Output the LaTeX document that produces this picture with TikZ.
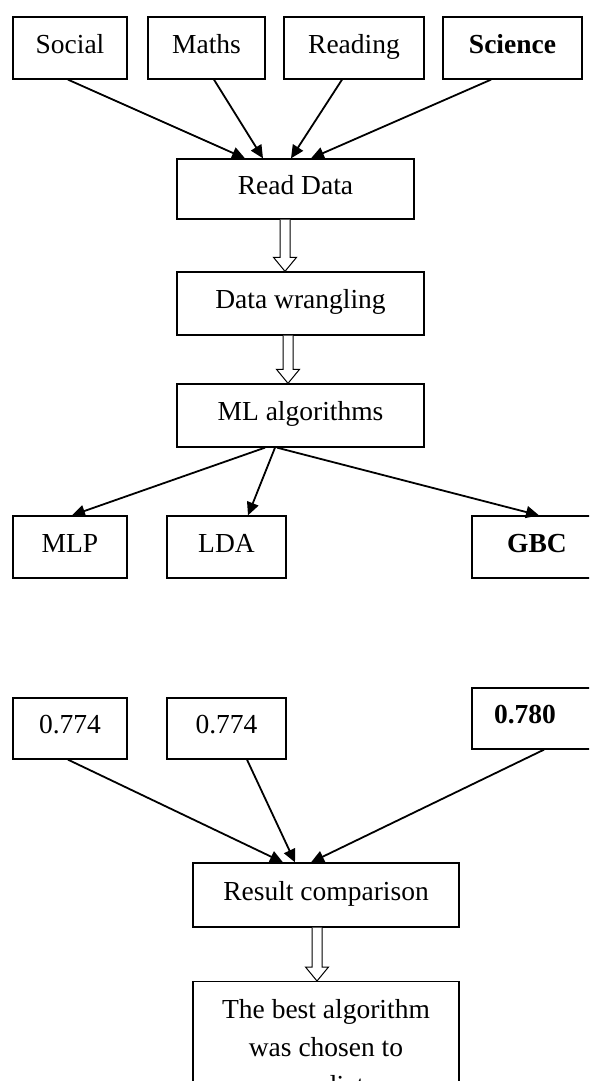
\documentclass[tikz,border=0pt]{standalone}
\usepackage{fontspec}
\setmainfont{Liberation Serif}
\usetikzlibrary{arrows.meta,calc}
\newcommand{\blockarr}[2]{\draw[blockarrow] let \p1=#1, \p2=#2 in
  (\x1-5pt,\y1) -- (\x1-5pt,\y2+14pt) -- (\x1-11.5pt,\y2+14pt) -- (\x1,\y2)
  -- (\x1+11.5pt,\y2+14pt) -- (\x1+5pt,\y2+14pt) -- (\x1+5pt,\y1);}
\begin{document}
\begin{tikzpicture}[x=1pt,y=-1pt,
  box/.style={draw,line width=1.3pt,rectangle,inner sep=0pt,
    font=\fontsize{27.5}{38}\selectfont,align=center,
    text height=19pt,text depth=9pt},
  boldbox/.style={box,font=\fontsize{27.5}{38}\selectfont\bfseries},
  conn/.style={line width=1.8pt,-{Triangle[length=13pt,width=12pt]}},
  blockarrow/.style={draw,line width=1pt,fill=white}]
\useasboundingbox (0,0) rectangle (589,1081);
\fill[white] (0,0) rectangle (589,1081);
\clip (0,0) rectangle (589,1081);

% top row
\node[box,minimum width=114pt,minimum height=62pt] (social) at (70,48) {Social};
\node[box,minimum width=117pt,minimum height=62pt] (maths) at (206.5,48) {Maths};
\node[box,minimum width=140pt,minimum height=62pt] (reading) at (354,48) {Reading};
\node[boldbox,minimum width=139pt,minimum height=62pt] (science) at (512.5,48) {Science};

\node[box,minimum width=237pt,minimum height=60pt] (read) at (295.5,189) {Read Data};
\node[box,minimum width=247pt,minimum height=63pt] (wrang) at (300.5,303.5) {Data wrangling};
\node[box,minimum width=247pt,minimum height=63pt] (ml) at (300.5,415.5) {ML algorithms};

\node[box,minimum width=114pt,minimum height=62pt] (mlp) at (70,547) {MLP};
\node[box,minimum width=119pt,minimum height=62pt] (lda) at (226.5,547) {LDA};
\node[boldbox,minimum width=130pt,minimum height=62pt] (gbc) at (537,547) {GBC};

\node[box,minimum width=114pt,minimum height=61pt] (v1) at (70,728.5) {0.774};
\node[box,minimum width=119pt,minimum height=61pt] (v2) at (226.5,728.5) {0.774};
\node[boldbox,minimum height=61pt,text width=104pt,inner xsep=22pt,align=left] (v3) at (546,718.5) {0.780};

\node[box,minimum width=266pt,minimum height=64pt] (result) at (326,895) {Result comparison};
\node[box,anchor=north,minimum width=266pt,inner ysep=18pt,text height=,text depth=] (best) at (326,981)
  {The best algorithm\\was chosen to\\predict};

% connectors
\draw[conn] ([xshift=-2pt]social.south) -- ([xshift=-50.5pt]read.north);
\draw[conn] ([xshift=7.5pt]maths.south) -- ([xshift=-32.5pt]read.north);
\draw[conn] ([xshift=-12pt]reading.south) -- ([xshift=-4.5pt]read.north);
\draw[conn] ([xshift=-21.5pt]science.south) -- ([xshift=15.5pt]read.north);

\blockarr{($(read.south)+(-10.5,0)$)}{(wrang.north)}
\blockarr{($(wrang.south)+(-12.5,0)$)}{(ml.north)}

\draw[conn] ([xshift=-35.5pt]ml.south) -- ([xshift=2pt]mlp.north);
\draw[conn] ([xshift=-25.5pt]ml.south) -- ([xshift=21.5pt]lda.north);
\draw[conn] ([xshift=-23.5pt]ml.south) -- ([xshift=2pt]gbc.north);

\draw[conn] ([xshift=-2pt]v1.south) -- ([xshift=-43pt]result.north);
\draw[conn] ([xshift=20.5pt]v2.south) -- ([xshift=-31pt]result.north);
\draw[conn] ([xshift=-2pt]v3.south) -- ([xshift=-15pt]result.north);

\blockarr{($(result.south)+(-9,0)$)}{(best.north)}
\end{tikzpicture}
\end{document}
